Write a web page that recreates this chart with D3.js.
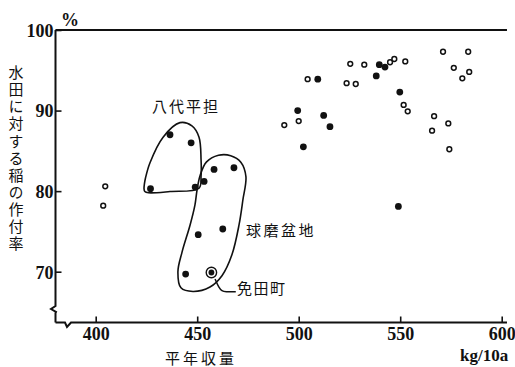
<!DOCTYPE html>
<html><head><meta charset="utf-8">
<script src="https://cdn.jsdelivr.net/npm/d3@7"></script>
<style>
html,body{margin:0;padding:0;background:#fff;}
svg{display:block;}
.cjk{font-family:"Noto Sans CJK JP","Noto Sans",sans-serif;fill:#111;}
.num{font-family:"Liberation Serif","DejaVu Serif",serif;font-weight:bold;fill:#111;}
</style>
</head><body>
<svg id="c" width="515" height="367"></svg>
<script>
// ---- data (x: 平年収量 kg/10a, y: 水田に対する稲の作付率 %) ----
const filledX = [436.6,447.0,427.0,449.0,453.4,458.3,468.1,450.5,462.6,444.3,509.4,539.7,542.5,538.2,549.8,499.5,512.3,515.4,502.3,549.1];
const filledY = [87.0,86.0,80.3,80.5,81.2,82.7,82.9,74.6,75.3,69.7,93.9,95.7,95.4,94.3,92.3,90.0,89.4,88.0,85.5,78.1];
const openX = [504.4,525.4,532.3,523.6,528.1,545.0,547.1,552.5,492.9,500.0,551.7,553.7,571.1,583.5,576.4,584.0,580.6,566.7,573.7,565.7,574.2,404.7,403.7];
const openY = [93.9,95.8,95.7,93.4,93.3,96.0,96.4,96.1,88.2,88.7,90.7,89.9,97.3,97.3,95.3,94.8,94.0,89.3,88.4,87.5,85.2,80.6,78.2];
const mendaX = [457.0];
const mendaY = [69.9];
const xTicks = [400,450,500,550,600];
const yTicks = [70,80,90,100];
// group outlines (data units)
const yatsushiroX = [441.5,447.4,450.9,451.9,451.9,450.9,436.6,426.0,424.2,423.8,424.0,424.5,426.7,433.2];
const yatsushiroY = [88.5,88.1,86.7,83.9,81.9,80.36,79.95,79.8,79.95,80.3,80.9,81.6,83.5,86.7];
const kumaX = [460.5,466.5,471.5,474.0,472.5,470.6,467.1,462.2,456.3,447.9,442.0,440.5,442.5,446.5,448.9,449.9,451.4,454.5];
const kumaY = [84.45,84.4,83.6,81.8,78.9,75.8,72.1,69.5,68.1,67.55,68.0,70.0,72.4,75.8,78.3,80.1,81.9,83.6];
const leaderX = [458.8,460.7,462.2,463.8,469.0];
const leaderY = [69.1,68.0,67.6,67.5,67.5];

const svg = d3.select("#c");
const x = d3.scaleLinear().domain([400,600]).range([95.7,501.7]);
const y = d3.scaleLinear().domain([70,100]).range([271.7,30]);
const axisY = 322.5, axisX = 55.5;

// frame / axes lines with breaks
const ax = svg.append("g").attr("fill","none").attr("stroke","#111").attr("stroke-width",2);
ax.append("path").attr("d",`M${axisX},${y(100)}H${x(602.6)}`);
ax.append("path").attr("d",`M${axisX},${y(100)}V306 L51,309 L56,312 L${axisX},313 V${axisY}`);
ax.append("path").attr("d",`M${axisX},${axisY}H65 L67,327 L71,322.5 H${x(602.6)}`);

// axes ticks
const gx = svg.append("g").attr("transform",`translate(0,${axisY})`)
  .call(d3.axisBottom(x).tickValues(xTicks).tickSizeInner(-6).tickSizeOuter(0).tickPadding(5));
const gy = svg.append("g").attr("transform",`translate(${axisX},0)`)
  .call(d3.axisLeft(y).tickValues(yTicks).tickSizeInner(-6).tickSizeOuter(0).tickPadding(2));
[gx,gy].forEach(g=>{
  g.select(".domain").remove();
  g.selectAll("line").attr("stroke","#111").attr("stroke-width",1.6);
  g.selectAll("text").attr("class","num").attr("font-size",18).attr("fill","#111");
});
gy.selectAll("text").attr("dy","0.35em");

// outlines
const line = d3.line().x(d=>x(d[0])).y(d=>y(d[1])).curve(d3.curveCatmullRomClosed.alpha(0.5));
svg.append("path").datum(yatsushiroX.map((v,i)=>[v,yatsushiroY[i]]))
  .attr("d",line).attr("fill","none").attr("stroke","#111").attr("stroke-width",1.6);
svg.append("path").datum(kumaX.map((v,i)=>[v,kumaY[i]]))
  .attr("d",line).attr("fill","none").attr("stroke","#111").attr("stroke-width",1.6);
const lline = d3.line().x(d=>x(d[0])).y(d=>y(d[1])).curve(d3.curveBasis);
svg.append("path").datum(leaderX.map((v,i)=>[v,leaderY[i]]))
  .attr("d",lline).attr("fill","none").attr("stroke","#111").attr("stroke-width",1.5);

// points
svg.append("g").selectAll("circle").data(openX.map((v,i)=>[v,openY[i]])).join("circle")
  .attr("cx",d=>x(d[0])).attr("cy",d=>y(d[1])).attr("r",2.4)
  .attr("fill","#fff").attr("stroke","#111").attr("stroke-width",1.5);
svg.append("g").selectAll("circle").data(filledX.map((v,i)=>[v,filledY[i]])).join("circle")
  .attr("cx",d=>x(d[0])).attr("cy",d=>y(d[1])).attr("r",3.4).attr("fill","#111");
const mg = svg.append("g").selectAll("g").data(mendaX.map((v,i)=>[v,mendaY[i]])).join("g");
mg.append("circle").attr("cx",d=>x(d[0])).attr("cy",d=>y(d[1])).attr("r",5.2)
  .attr("fill","#fff").attr("stroke","#111").attr("stroke-width",1.4);
mg.append("circle").attr("cx",d=>x(d[0])).attr("cy",d=>y(d[1])).attr("r",2.9).attr("fill","#111");

// labels
svg.append("text").attr("class","cjk").attr("x",152).attr("y",112).attr("font-size",15).attr("letter-spacing",2).text("八代平担");
svg.append("text").attr("class","cjk").attr("x",246).attr("y",236).attr("font-size",15).attr("letter-spacing",2.5).text("球磨盆地");
svg.append("text").attr("class","cjk").attr("x",237).attr("y",294).attr("font-size",15).attr("letter-spacing",1.5).text("免田町");
svg.append("text").attr("class","cjk").attr("x",165).attr("y",364).attr("font-size",15).attr("letter-spacing",3).text("平年収量");
svg.append("text").attr("class","num").attr("x",460).attr("y",361).attr("font-size",17).text("kg/10a");
svg.append("text").attr("class","num").attr("x",61).attr("y",26).attr("font-size",18).attr("font-weight","normal").text("%");
svg.append("text").attr("class","cjk").attr("x",16).attr("y",65).attr("font-size",15)
  .attr("letter-spacing",2.1).style("writing-mode","vertical-rl").style("text-orientation","upright")
  .text("水田に対する稲の作付率");
</script>
</body></html>
